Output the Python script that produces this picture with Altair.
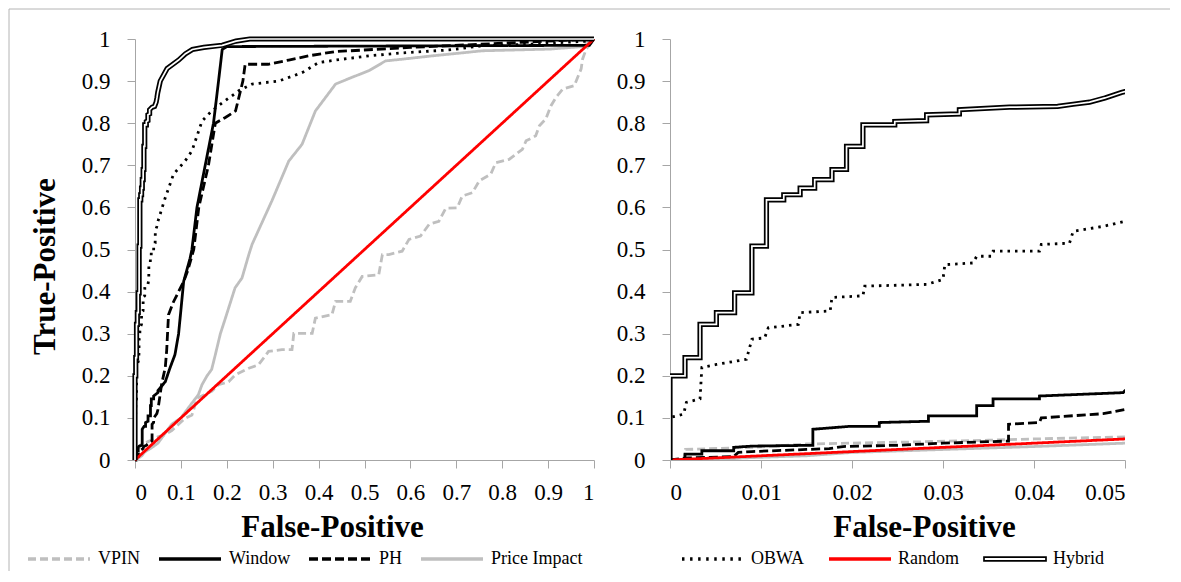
import altair as alt
import pandas as pd

# ---------------- data ----------------
SERIES = ["VPIN", "Window", "PH", "Price Impact", "OBWA", "Random"]
COLORS = ["#BFBFBF", "#000000", "#000000", "#BFBFBF", "#000000", "#FF0000"]
DASHES = [[8, 4], [1, 0], [9, 4], [1, 0], [2.5, 5], [1, 0]]
LEGEND_A = ["VPIN", "Window", "PH", "Price Impact"]
LEGEND_B = ["OBWA", "Random", "Hybrid"]
LEGEND_B_COLORS = ["#000000", "#FF0000", "#000000"]

vpin_fp = [0, 0.0015, 0.0017, 0.009, 0.015, 0.02, 0.027, 0.035, 0.04, 0.05,
           0.065, 0.08, 0.095, 0.109, 0.124, 0.128, 0.135, 0.167, 0.182, 0.204,
           0.218, 0.248, 0.269, 0.291, 0.32, 0.342, 0.346, 0.386, 0.393, 0.429,
           0.437, 0.469, 0.48, 0.495, 0.531, 0.539, 0.553, 0.582, 0.597, 0.622,
           0.641, 0.662, 0.677, 0.702, 0.713, 0.735, 0.75, 0.775, 0.786, 0.815,
           0.844, 0.852, 0.873, 0.881, 0.895, 0.906, 0.917, 0.932, 0.957, 0.972,
           0.975, 0.983, 1.0]
vpin_tp = [0, 0, 0.025, 0.03, 0.038, 0.04, 0.043, 0.047, 0.05, 0.055,
           0.06, 0.07, 0.085, 0.099, 0.107, 0.12, 0.147, 0.163, 0.179, 0.186,
           0.202, 0.218, 0.226, 0.258, 0.262, 0.262, 0.301, 0.301, 0.337, 0.345,
           0.377, 0.377, 0.409, 0.436, 0.44, 0.488, 0.488, 0.496, 0.524, 0.532,
           0.56, 0.567, 0.598, 0.599, 0.627, 0.635, 0.663, 0.679, 0.706, 0.714,
           0.738, 0.758, 0.77, 0.794, 0.81, 0.841, 0.861, 0.881, 0.889, 0.929,
           0.952, 0.976, 1.0]

window_fp = [0, 0.00165, 0.00165, 0.0035, 0.0035, 0.007, 0.007, 0.009, 0.0157, 0.0157,
             0.0198, 0.023, 0.023, 0.0284, 0.0284, 0.0337, 0.0337, 0.0355, 0.0355, 0.0406,
             0.0406, 0.0498, 0.05, 0.066, 0.076, 0.087, 0.095, 0.099, 0.106, 0.12,
             0.124, 0.135, 0.153, 0.171, 0.182, 0.19, 0.2, 0.99, 1.0]
window_tp = [0, 0, 0.014, 0.014, 0.022, 0.022, 0.03, 0.033, 0.035, 0.073,
             0.08, 0.08, 0.089, 0.092, 0.105, 0.105, 0.129, 0.129, 0.145, 0.145,
             0.152, 0.16, 0.165, 0.186, 0.218, 0.25, 0.3, 0.345, 0.424, 0.479,
             0.5, 0.6, 0.7, 0.8, 0.9, 0.975, 0.982, 0.985, 1.0]

ph_fp = [0, 0.002, 0.007, 0.0075, 0.009, 0.015, 0.0175, 0.019, 0.025, 0.03,
         0.0372, 0.0372, 0.0406, 0.0408, 0.0476, 0.05, 0.058, 0.066, 0.069, 0.073,
         0.084, 0.095, 0.106, 0.115, 0.128, 0.139, 0.16, 0.175, 0.196, 0.219,
         0.235, 0.24, 0.29, 0.335, 0.378, 0.436, 0.6, 0.8, 1.0]
ph_tp = [0, 0.005, 0.008, 0.018, 0.02, 0.025, 0.027, 0.032, 0.035, 0.04,
         0.045, 0.085, 0.089, 0.1, 0.11, 0.12, 0.18, 0.22, 0.26, 0.345,
         0.376, 0.4, 0.424, 0.45, 0.5, 0.6, 0.7, 0.8, 0.813, 0.829,
         0.9, 0.94, 0.94, 0.95, 0.96, 0.97, 0.98, 0.99, 1.0]

pi_fp = [0, 0.005, 0.008, 0.015, 0.02, 0.03, 0.04, 0.05, 0.08, 0.1,
         0.124, 0.138, 0.146, 0.157, 0.167, 0.175, 0.182, 0.186, 0.197, 0.204,
         0.218, 0.233, 0.248, 0.255, 0.298, 0.335, 0.364, 0.393, 0.437, 0.473,
         0.51, 0.546, 0.582, 0.648, 0.757, 0.903, 0.975, 1.0]
pi_tp = [0, 0, 0.005, 0.01, 0.018, 0.025, 0.032, 0.04, 0.085, 0.1,
         0.135, 0.155, 0.179, 0.2, 0.215, 0.25, 0.282, 0.3, 0.337, 0.361,
         0.409, 0.432, 0.488, 0.512, 0.615, 0.71, 0.75, 0.829, 0.893, 0.909,
         0.925, 0.948, 0.952, 0.96, 0.972, 0.976, 0.982, 1.0]

obwa_fp = [0, 0, 0.0015, 0.0018, 0.0033, 0.0035, 0.0051, 0.0084, 0.009, 0.0104,
           0.0108, 0.0141, 0.0143, 0.0176, 0.0178, 0.0212, 0.0214, 0.0282, 0.03, 0.0302,
           0.0333, 0.0337, 0.0353, 0.0355, 0.0406, 0.0408, 0.0439, 0.0443, 0.0476, 0.05,
           0.065, 0.084, 0.109, 0.124, 0.146, 0.167, 0.196, 0.226, 0.255, 0.313,
           0.364, 0.4, 0.437, 0.51, 0.582, 0.684, 0.757, 0.866, 0.99, 1.0]
obwa_tp = [0, 0.101, 0.109, 0.137, 0.145, 0.22, 0.227, 0.239, 0.287, 0.29,
           0.314, 0.322, 0.35, 0.354, 0.386, 0.39, 0.413, 0.417, 0.429, 0.464,
           0.468, 0.484, 0.484, 0.496, 0.496, 0.512, 0.515, 0.543, 0.555, 0.567,
           0.62, 0.679, 0.71, 0.734, 0.805, 0.829, 0.853, 0.877, 0.893, 0.9,
           0.92, 0.944, 0.95, 0.96, 0.967, 0.974, 0.984, 0.988, 0.995, 1.0]

random_fp = [0, 1.0]
random_tp = [0, 1.0]

hybrid_fp = [0, 0, 0.00165, 0.00165, 0.0033, 0.0033, 0.0051, 0.0051, 0.0071, 0.0071,
             0.009, 0.009, 0.0106, 0.0106, 0.0125, 0.0125, 0.0143, 0.0143, 0.0159, 0.0159,
             0.0178, 0.0178, 0.0194, 0.0194, 0.0212, 0.0212, 0.0247, 0.0247, 0.0282, 0.0282,
             0.0318, 0.0318, 0.0373, 0.0426, 0.0443, 0.0461, 0.0478, 0.0496, 0.05, 0.055,
             0.07, 0.095, 0.11, 0.125, 0.15, 0.19, 0.22, 0.25, 1.0]
hybrid_tp = [0, 0.2, 0.2, 0.243, 0.243, 0.322, 0.322, 0.35, 0.35, 0.397,
             0.397, 0.508, 0.508, 0.618, 0.618, 0.63, 0.63, 0.646, 0.646, 0.666,
             0.666, 0.69, 0.69, 0.745, 0.745, 0.796, 0.796, 0.804, 0.806, 0.82,
             0.822, 0.832, 0.838, 0.84, 0.845, 0.85, 0.86, 0.873, 0.875, 0.9,
             0.93, 0.95, 0.965, 0.975, 0.98, 0.985, 0.995, 1.0, 1.0]

X_TICKS_LEFT = [0, 0.1, 0.2, 0.3, 0.4, 0.5, 0.6, 0.7, 0.8, 0.9, 1]
X_TICKS_RIGHT = [0, 0.01, 0.02, 0.03, 0.04, 0.05]
Y_TICKS = [0, 0.1, 0.2, 0.3, 0.4, 0.5, 0.6, 0.7, 0.8, 0.9, 1]

# ---------------- tables ----------------
series_data = {
    "VPIN": (vpin_fp, vpin_tp),
    "Price Impact": (pi_fp, pi_tp),
    "PH": (ph_fp, ph_tp),
    "Window": (window_fp, window_tp),
    "OBWA": (obwa_fp, obwa_tp),
    "Random": (random_fp, random_tp),
}
rows = []
for name, (fps, tps) in series_data.items():
    assert len(fps) == len(tps), name
    for i, (a, b) in enumerate(zip(fps, tps)):
        rows.append({"series": name, "fp": a, "tp": b, "i": i})
df = pd.DataFrame(rows)

assert len(hybrid_fp) == len(hybrid_tp)
dfh = pd.DataFrame({"fp": hybrid_fp, "tp": hybrid_tp,
                    "i": list(range(len(hybrid_fp))), "lab": "Hybrid"})
frame_df = pd.DataFrame({"k": [0]})

# ---------------- styles ----------------
FONT = "Liberation Serif"
AX_GRAY = "#A6A6A6"
FRAME_GRAY = "#B4B4B4"

# legend symbols for the second legend group (double strokes so one width works)
_dots = "".join(
    f"M{-1 + k * 0.26:.2f},-0.03L{-1 + k * 0.26 + 0.08:.2f},-0.03"
    f"M{-1 + k * 0.26:.2f},0.03L{-1 + k * 0.26 + 0.08:.2f},0.03"
    for k in range(8))
PATH_DOTS = _dots
PATH_SOLID = "M-1,-0.03L1,-0.03M-1,0.03L1,0.03"
PATH_DOUBLE = "M-1,-0.06L1,-0.06L1,0.06L-1,0.06Z"

legend_a = alt.Legend(
    orient="none", legendX=-109, legendY=510, direction="horizontal", columns=4,
    values=LEGEND_A, title=None, symbolType="stroke", symbolSize=3844,
    symbolStrokeWidth=3.5, clipHeight=20,
    labelFont=FONT, labelFontSize=18, labelColor="black", labelOffset=6,
    columnPadding=16, symbolLimit=0)

legend_b = alt.Legend(
    orient="none", legendX=546, legendY=510, direction="horizontal", columns=3,
    title=None, symbolSize=3844, symbolStrokeWidth=1.7, clipHeight=20,
    labelFont=FONT, labelFontSize=18, labelColor="black", labelOffset=6,
    columnPadding=24)

color_enc = alt.Color("series:N", scale=alt.Scale(domain=SERIES, range=COLORS),
                      legend=legend_a)
dash_enc = alt.StrokeDash("series:N", scale=alt.Scale(domain=SERIES, range=DASHES),
                          legend=legend_a)


def panel(x_domain, x_ticks, width, y_title, clip, x_title_x):
    x = alt.X("fp:Q", scale=alt.Scale(domain=x_domain, nice=False, zero=False),
              axis=alt.Axis(values=x_ticks, format="~g", title="False-Positive",
                            titleX=x_title_x, titleY=52, titleBaseline="top",
                            titleAlign="center"))
    if y_title is not None:
        y_axis = alt.Axis(values=Y_TICKS, format="~g", title=y_title,
                          titleX=-90, titleY=227, titleBaseline="middle",
                          titleAlign="center")
    else:
        y_axis = alt.Axis(values=Y_TICKS, format="~g", title=None)
    y = alt.Y("tp:Q", scale=alt.Scale(domain=[0, 1], nice=False), axis=y_axis)

    lines = alt.Chart(df).mark_line(strokeWidth=2.8, clip=clip).encode(
        x=x, y=y, color=color_enc, strokeDash=dash_enc, order="i:Q")
    hyb_out = alt.Chart(dfh).mark_line(color="black", strokeWidth=5.2, clip=clip).encode(
        x=x, y=y, order="i:Q")
    hyb_in = alt.Chart(dfh).mark_line(color="white", strokeWidth=1.7, clip=clip).encode(
        x=x, y=y, order="i:Q")
    layers = [lines, hyb_out, hyb_in]
    if y_title is not None:
        leg_b = alt.Chart(dfh).transform_filter("false").mark_point(
            filled=False, strokeWidth=1.7, opacity=1).encode(
            x=x, y=y,
            shape=alt.Shape("lab:N", scale=alt.Scale(
                domain=LEGEND_B, range=[PATH_DOTS, PATH_SOLID, PATH_DOUBLE]),
                legend=legend_b),
            stroke=alt.Stroke("lab:N", scale=alt.Scale(
                domain=LEGEND_B, range=LEGEND_B_COLORS), legend=legend_b))
        frame_top = alt.Chart(frame_df).mark_rule(
            color=FRAME_GRAY, strokeWidth=1, clip=False).encode(
            x=alt.value(-126), x2=alt.value(1035), y=alt.value(-30))
        frame_left = alt.Chart(frame_df).mark_rule(
            color=FRAME_GRAY, strokeWidth=1, clip=False).encode(
            x=alt.value(-126), y=alt.value(-30), y2=alt.value(532))
        layers = [frame_top, frame_left] + layers + [leg_b]
    return alt.layer(*layers).properties(width=width, height=421)


left = panel([0, 1], X_TICKS_LEFT, 459, "True-Positive", False, 197)
right = panel([0, 0.05], X_TICKS_RIGHT, 455, None, True, 254)

chart = alt.hconcat(left, right, spacing=76, bounds="flush").resolve_scale(
    color="shared", strokeDash="shared"
).properties(
    padding={"left": 0, "top": 0, "right": 0, "bottom": 0}
).configure_view(stroke=None).configure_axis(
    grid=False, domainColor=AX_GRAY, tickColor=AX_GRAY, tickSize=8,
    labelFont=FONT, labelFontSize=23, labelColor="black",
    titleFont=FONT, titleFontSize=31, titleFontWeight="bold", titleColor="black",
).configure_axisX(labelPadding=13).configure_axisY(labelPadding=17)

chart.save("out.html", embed_options={"renderer": "svg", "actions": False})
